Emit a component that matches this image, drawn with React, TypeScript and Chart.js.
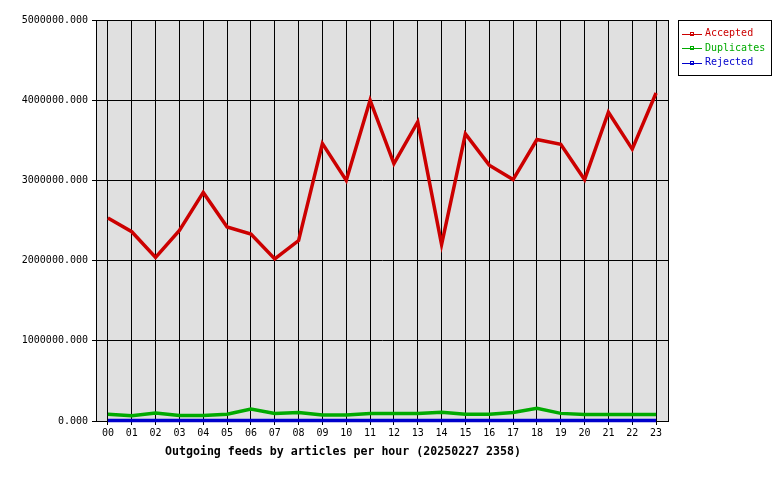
import React, { useRef, useEffect } from 'react';
import { Chart, ChartConfiguration, Plugin } from 'chart.js/auto';

const hours = [
  '00', '01', '02', '03', '04', '05', '06', '07', '08', '09', '10', '11',
  '12', '13', '14', '15', '16', '17', '18', '19', '20', '21', '22', '23',
];
const accepted = [
  2530000, 2360000, 2040000, 2375000, 2850000, 2420000, 2330000, 2020000,
  2250000, 3460000, 3000000, 4000000, 3210000, 3730000, 2200000, 3580000,
  3190000, 3010000, 3510000, 3450000, 3010000, 3850000, 3390000, 4090000,
];
const duplicates = [
  85000, 65000, 100000, 70000, 70000, 85000, 150000, 95000, 105000, 75000,
  75000, 95000, 95000, 95000, 110000, 85000, 85000, 105000, 160000, 95000,
  80000, 80000, 80000, 80000,
];
const rejected = [
  6000, 6000, 6000, 6000, 6000, 6000, 6000, 6000, 6000, 6000, 6000, 6000,
  6000, 6000, 6000, 6000, 6000, 6000, 6000, 6000, 6000, 6000, 6000, 6000,
];
const seriesNames = ['Accepted', 'Duplicates', 'Rejected'];
const seriesColors = ['#cc0000', '#00aa00', '#0000cc'];
const xTitle = 'Outgoing feeds by articles per hour (20250227 2358)';

const MONO = '"DejaVu Sans Mono", "Liberation Mono", monospace';

// grey plot background, frame, legend box and bottom title
const framePlugin: Plugin = {
  id: 'frame',
  beforeDraw(chart) {
    const { ctx, chartArea: a } = chart;
    ctx.save();
    ctx.fillStyle = '#e0e0e0';
    ctx.fillRect(a.left, a.top, a.right - a.left, a.bottom - a.top);
    ctx.restore();
  },
  beforeDatasetsDraw(chart) {
    const { ctx, chartArea: a } = chart;
    ctx.save();
    ctx.strokeStyle = '#000';
    ctx.lineWidth = 1;
    ctx.strokeRect(Math.round(a.left) + 0.5, Math.round(a.top) + 0.5,
      Math.round(a.right - a.left), Math.round(a.bottom - a.top));
    ctx.restore();
  },
  afterDraw(chart) {
    const { ctx, chartArea: a } = chart;
    ctx.save();
    ctx.lineWidth = 1;

    // legend
    const lx = a.right + 10;
    const ly = a.top;
    ctx.fillStyle = '#fff';
    ctx.fillRect(lx, ly, 93, 55);
    ctx.strokeStyle = '#000';
    ctx.strokeRect(lx + 0.5, ly + 0.5, 93, 55);
    ctx.font = '10px ' + MONO;
    ctx.textBaseline = 'middle';
    ctx.textAlign = 'left';
    chart.data.datasets.forEach((ds, i) => {
      const y = ly + 13.5 + i * 14.5;
      const c = seriesColors[i];
      ctx.strokeStyle = c;
      ctx.beginPath();
      ctx.moveTo(lx + 4, Math.round(y) + 0.5);
      ctx.lineTo(lx + 24, Math.round(y) + 0.5);
      ctx.stroke();
      ctx.strokeRect(lx + 12.5, Math.round(y) - 1.5, 3, 3);
      ctx.fillStyle = c;
      ctx.fillText(String(ds.label), lx + 27, y);
    });

    // bottom title
    ctx.fillStyle = '#000';
    ctx.font = 'bold 11.6px ' + MONO;
    ctx.textAlign = 'center';
    ctx.fillText(xTitle, 343, 452);
    ctx.restore();
  },
};

const App: React.FC = () => {
  const canvasRef = useRef<HTMLCanvasElement | null>(null);

  useEffect(() => {
    if (!canvasRef.current) return;
    const values = [accepted, duplicates, rejected];
    const config: ChartConfiguration = {
      type: 'line',
      data: {
        labels: hours,
        datasets: values.map((v, i) => ({
          label: seriesNames[i],
          data: v,
          borderColor: seriesColors[i],
          backgroundColor: seriesColors[i],
          borderWidth: 3.5,
          pointRadius: 0,
          tension: 0,
          fill: false,
          clip: false,
        })),
      },
      options: {
        responsive: false,
        animation: false,
        layout: { padding: { top: 20, right: 112, left: 0, bottom: 0 } },
        plugins: {
          legend: { display: false },
          tooltip: { enabled: false },
        },
        scales: {
          x: {
            offset: true,
            afterFit: (s) => { s.height = 59; },
            grid: {
              color: '#000',
              lineWidth: 1,
              offset: false,
              drawTicks: true,
              tickLength: 4,
            },
            border: { display: true, color: '#000' },
            ticks: {
              color: '#000',
              font: { family: MONO, size: 10 },
              padding: 2,
              maxRotation: 0,
              autoSkip: false,
            },
          },
          y: {
            min: 0,
            max: 5000000,
            afterFit: (s) => { s.width = 96; },
            grid: { color: '#000', lineWidth: 1, tickLength: 4 },
            border: { display: true, color: '#000' },
            ticks: {
              stepSize: 1000000,
              color: '#000',
              font: { family: MONO, size: 10 },
              padding: 4,
              callback: (v) => Number(v).toFixed(3),
            },
          },
        },
      },
      plugins: [framePlugin],
    };
    const chart = new Chart(canvasRef.current, config);
    return () => {
      chart.destroy();
    };
  }, []);

  return (
    <div style={{ position: 'absolute', left: 0, top: 0, width: 780, height: 480, background: '#fff' }}>
      <canvas ref={canvasRef} width={780} height={480} />
    </div>
  );
};

export default App;
